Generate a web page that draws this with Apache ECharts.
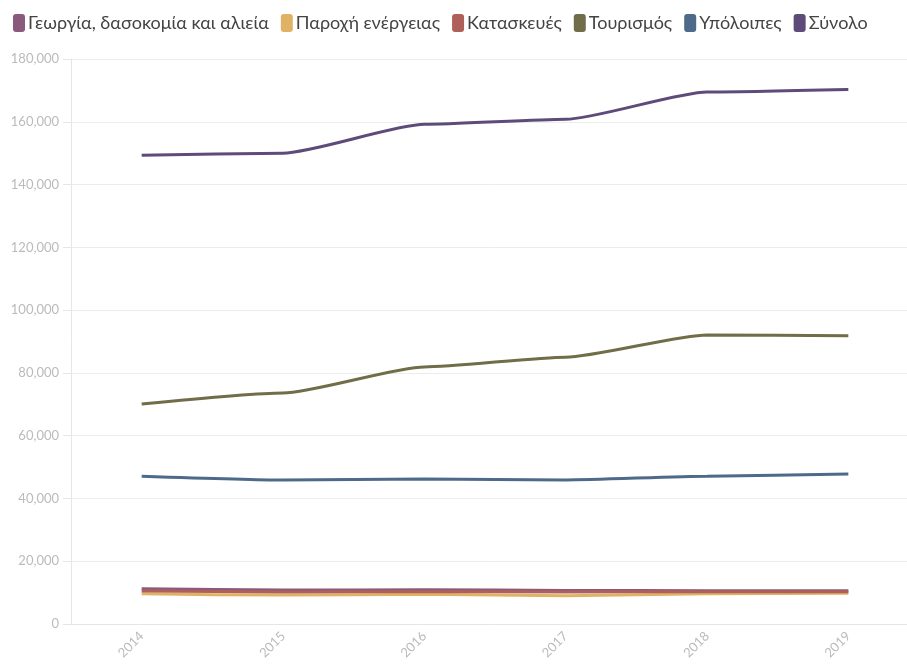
<!DOCTYPE html>
<html><head><meta charset="utf-8">
<script src="https://cdn.jsdelivr.net/npm/echarts@6/dist/echarts.min.js"></script>
<style>html,body{margin:0;padding:0;background:#fff}#c{width:907px;height:666px}</style>
</head><body><div id="c"></div>
<script>
var years = ['2014','2015','2016','2017','2018','2019'];
var seriesNames = ['Γεωργία, δασοκομία και αλιεία','Παροχή ενέργειας','Κατασκευές','Τουρισμός','Υπόλοιπες','Σύνολο'];
var agriculture = [11200, 10800, 10900, 10700, 10600, 10600];
var energy = [9600, 9200, 9500, 9000, 9600, 9800];
var construction = [10500, 10200, 10300, 10200, 10300, 10300];
var tourism = [70100, 73600, 81900, 85000, 92100, 91800];
var other = [47100, 45900, 46200, 45900, 47100, 47800];
var total = [149300, 150000, 159200, 160800, 169500, 170300];
var colors = ['#8a5a7c','#e0b266','#b0605a','#716d48','#4e6a8b','#5e4b7a'];
var dataSets = [agriculture, energy, construction, tourism, other, total];
var chart = echarts.init(document.getElementById('c'));
chart.setOption({
  animation:false,
  color: colors,
  textStyle:{fontFamily:'Lato'},
  legend:{left:8, top:9, itemWidth:12, itemHeight:18, itemGap:12, icon:'roundRect',
    textStyle:{fontSize:18, color:'#444', fontFamily:'Lato', padding:[0,0,0,-2]},
    data: seriesNames},
  grid:{left:71, right:-12, top:59, bottom:42, outerBoundsMode:'none', containLabel:false},
  xAxis:{type:'category', data:years, boundaryGap:true,
    axisLine:{lineStyle:{color:'#e6e6e6'}},
    axisTick:{alignWithLabel:true, lineStyle:{color:'#e6e6e6'}},
    axisLabel:{rotate:45, color:'#bbb', fontSize:13, margin:10},
    splitLine:{show:false}},
  yAxis:{type:'value', min:0, max:180000, interval:20000,
    axisLine:{show:true, lineStyle:{color:'#e6e6e6'}},
    axisTick:{show:true, length:8, lineStyle:{color:'#e6e6e6'}},
    axisLabel:{color:'#bbb', fontSize:13, margin:12, formatter:function(v){return v.toLocaleString('en-US');}},
    splitLine:{lineStyle:{color:'#ececec'}}},
  series: seriesNames.map(function(n,i){
    return {name:n, type:'line', data:dataSets[i], symbol:'none', smooth:0.2, smoothMonotone:'x',
      lineStyle:{width:3, color:colors[i]}, z: (i===1?1:2+i)};
  })
});
</script></body></html>
